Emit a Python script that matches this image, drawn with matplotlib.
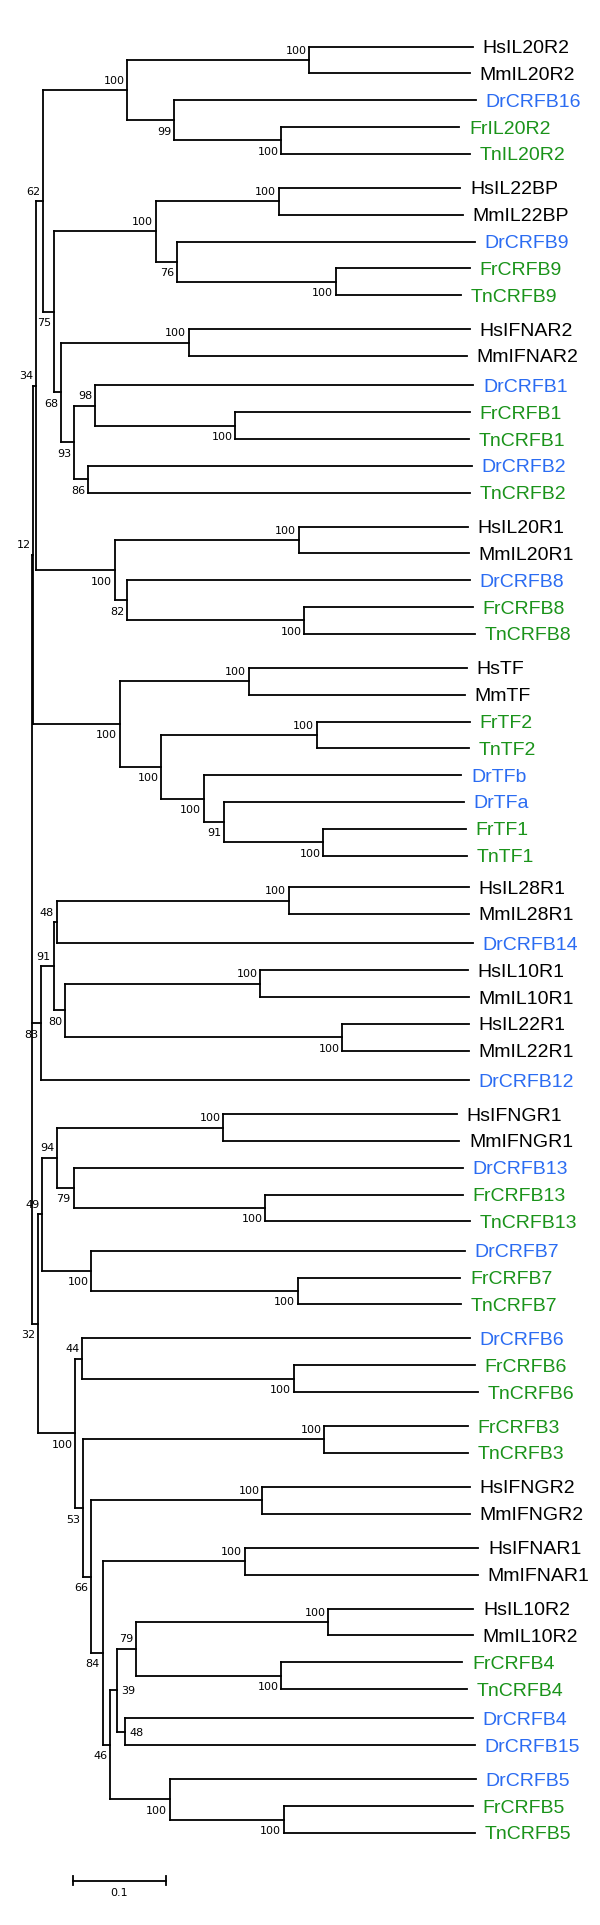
import re

import matplotlib

matplotlib.use("Agg")
import matplotlib.pyplot as plt

# Clades in Newick form: branch lengths (substitutions/site) and bootstrap support.
# Suffix on a support value says where it is written: ^ above, _ below, > right.
CLADE_IL20R2 = ("((HsIL20R2:0.1757,MmIL20R2:0.1729)100^:0.1955,"
                "(DrCRFB16:0.3243,(FrIL20R2:0.1913,TnIL20R2:0.2029)100_:0.1153)99_:0.0502)100^:0.0909")
CLADE_IL22BP_IFNAR2 = (
    "(((HsIL22BP:0.1955,MmIL22BP:0.1983)100^:0.1317,"
    "(DrCRFB9:0.3202,(FrCRFB9:0.1441,TnCRFB9:0.1344)100_:0.1712)76_:0.0223)100^:0.1102,"
    "((HsIFNAR2:0.3025,MmIFNAR2:0.2992)100^:0.1371,"
    "((DrCRFB1:0.4070,(FrCRFB1:0.2523,TnCRFB1:0.2510)100_:0.1511)98^:0.0226,"
    "(DrCRFB2:0.4124,TnCRFB2:0.4108)86_:0.0152)93_:0.0137)68_:0.0082)75_:0.0115")
CLADE_IL20R1 = ("((HsIL20R1:0.1819,MmIL20R1:0.1831)100^:0.1975,"
                "(DrCRFB8:0.3684,(FrCRFB8:0.1811,TnCRFB8:0.1832)100_:0.1901)82_:0.0135)100_:0.0852")
CLADE_TF = ("((HsTF:0.2345,MmTF:0.2325)100^:0.1387,"
            "((FrTF2:0.1646,TnTF2:0.1633)100^:0.1671,"
            "(DrTFb:0.2766,(DrTFa:0.2584,(FrTF1:0.1534,TnTF1:0.1543)100_:0.1070)91_:0.0214)100_:0.0457)"
            "100_:0.0448)100_:0.0930")
CLADE_IL10R1 = ("((((HsIL28R1:0.1933,MmIL28R1:0.1933)100^:0.2499,DrCRFB14:0.4473)48^:0.0032,"
                "((HsIL10R1:0.2231,MmIL10R1:0.2243)100^:0.2098,"
                "(HsIL22R1:0.1358,MmIL22R1:0.1358)100_:0.2983)80_:0.0124)91^:0.0135,"
                "DrCRFB12:0.4600)83_:0.0102")
CLADE_IFNGR1 = ("(((HsIFNGR1:0.2511,MmIFNGR1:0.2539)100^:0.1782,"
                "(DrCRFB13:0.4189,(FrCRFB13:0.2128,TnCRFB13:0.2202)100_:0.2061)79_:0.0173)94^:0.0165,"
                "(DrCRFB7:0.4020,(FrCRFB7:0.1749,TnCRFB7:0.1758)100_:0.2222)100_:0.0527)49^:0.0041")
CLADE_IL10R2 = (
    "((DrCRFB6:0.4169,(FrCRFB6:0.1943,TnCRFB6:0.1984)100_:0.2275)44^:0.0074,"
    "((FrCRFB3:0.1540,TnCRFB3:0.1540)100^:0.2592,"
    "((HsIFNGR2:0.2234,MmIFNGR2:0.2234)100^:0.1844,"
    "((HsIFNAR1:0.2511,MmIFNAR1:0.2502)100^:0.1530,"
    "((((HsIL10R2:0.1559,MmIL10R2:0.1551)100^:0.2070,"
    "(FrCRFB4:0.1946,TnCRFB4:0.1996)100_:0.1563)79^:0.0202,"
    "(DrCRFB4:0.3732,DrCRFB15:0.3754)48>:0.0090)39>:0.0074,"
    "(DrCRFB5:0.3292,(FrCRFB5:0.2028,TnCRFB5:0.2049)100_:0.1231)100_:0.0638)46_:0.0082"
    ")84_:0.0128)66_:0.0078)53_:0.0086)100_:0.0399")

TREE = (f"((({CLADE_IL20R2},{CLADE_IL22BP_IFNAR2})62^:0.0078,{CLADE_IL20R1})34^:0.0025,"
        f"{CLADE_TF})12^:0.0019,{CLADE_IL10R1},({CLADE_IFNGR1},{CLADE_IL10R2})32_:0.0073")
TREE = f"({TREE});"

SPECIES_COLORS = {"Hs": "black", "Mm": "black", "Dr": "#2b6cf2", "Fr": "#1a931a", "Tn": "#1a931a"}

# extra vertical space (in rows) before some leaves, as in the original drawing
ROW_GAPS = {
    "HsIL22BP": 0.27, "HsIFNAR2": 0.27, "DrCRFB1": 0.1, "HsIL20R1": 0.27, "HsTF": 0.27,
    "HsIL28R1": 0.18, "DrCRFB14": 0.1, "DrCRFB12": 0.1, "HsIFNGR1": 0.27, "DrCRFB7": 0.1,
    "DrCRFB6": 0.27, "FrCRFB3": 0.27, "HsIFNGR2": 0.27, "HsIFNAR1": 0.27, "HsIL10R2": 0.27,
    "DrCRFB4": 0.1, "DrCRFB5": 0.27,
}

SCALE_START = 0.0443
SCALE_LEN = 0.1


def parse_newick(text):
    s = re.sub(r"\s+", "", text)
    pos = 0

    def node():
        nonlocal pos
        children = []
        if s[pos] == "(":
            pos += 1
            children.append(node())
            while s[pos] == ",":
                pos += 1
                children.append(node())
            pos += 1
        label = re.match(r"[^:,();]*", s[pos:]).group(0)
        pos += len(label)
        length = 0.0
        if s[pos] == ":":
            m = re.match(r":([0-9.eE+-]+)", s[pos:])
            length = float(m.group(1))
            pos += len(m.group(0))
        return {"label": label, "length": length, "children": children}

    return node()


def layout(n, x0, state):
    n["x"] = x0 + n["length"]
    if not n["children"]:
        state["row"] += ROW_GAPS.get(n["label"], 0.0)
        n["y"] = state["row"]
        state["last"] = n["y"]
        state["row"] += 1
        return
    for c in n["children"]:
        layout(c, n["x"], state)
    n["y"] = 0.5 * (n["children"][0]["y"] + n["children"][-1]["y"])


def draw(ax, n):
    kw = dict(color="black", lw=1.3, solid_capstyle="projecting")
    if not n["children"]:
        ax.annotate(n["label"], (n["x"], n["y"]), xytext=(7, 0), textcoords="offset points",
                    ha="left", va="center_baseline", fontsize=14, family="Liberation Sans",
                    color=SPECIES_COLORS[n["label"][:2]])
        return
    ys = [c["y"] for c in n["children"]]
    ax.plot([n["x"], n["x"]], [min(ys), max(ys)], **kw)
    for c in n["children"]:
        ax.plot([n["x"], c["x"]], [c["y"], c["y"]], **kw)
        draw(ax, c)
    if n["label"]:
        support, side = n["label"][:-1], n["label"][-1]
        if side == ">":
            off, ha = (3, 0), "left"
        else:
            off, ha = (-2, 7.5 if side == "^" else -7.5), "right"
        ax.annotate(support, (n["x"], n["y"]), xytext=off, textcoords="offset points",
                    ha=ha, va="center_baseline", fontsize=8, family="DejaVu Sans")


root = parse_newick(TREE)
state = {"row": 0.0}
layout(root, 0.0, state)

fig = plt.figure(figsize=(6, 19.25), dpi=100)
ax = fig.add_axes([0, 0, 1, 1])
ax.set_xlim(-31.5 / 930, 568.5 / 930)
ax.set_ylim((1925 - 46.7) / 26.8, -46.7 / 26.8)
ax.axis("off")

draw(ax, root)

# scale bar
bar_y = state["last"] + 1.79
ax.plot([SCALE_START, SCALE_START + SCALE_LEN], [bar_y, bar_y], color="black", lw=1.3)
for xe in (SCALE_START, SCALE_START + SCALE_LEN):
    ax.plot([xe, xe], [bar_y - 0.17, bar_y + 0.17], color="black", lw=1.3)
ax.annotate(f"{SCALE_LEN:g}", (SCALE_START + SCALE_LEN / 2, bar_y), xytext=(0, -8),
            textcoords="offset points", ha="center", va="center_baseline",
            fontsize=8, family="DejaVu Sans")

fig.savefig("out.png", dpi=100, facecolor="white")
